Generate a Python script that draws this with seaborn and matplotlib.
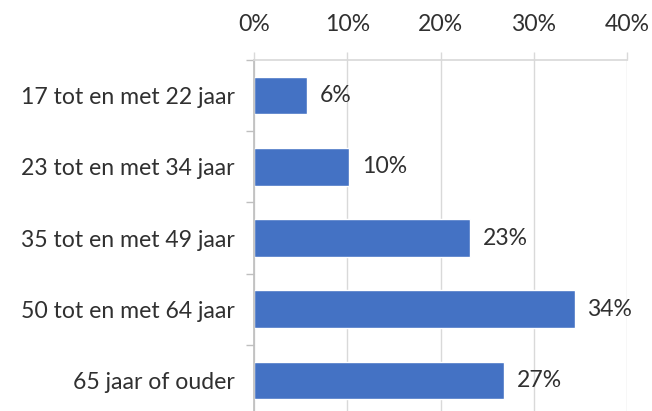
import numpy as np
import pandas as pd
import seaborn as sns
import matplotlib.pyplot as plt
from matplotlib.ticker import PercentFormatter, FixedLocator

categories = ["17 tot en met 22 jaar", "23 tot en met 34 jaar", "35 tot en met 49 jaar",
              "50 tot en met 64 jaar", "65 jaar of ouder"]
shares = [0.057, 0.102, 0.232, 0.344, 0.268]
labels = ["6%", "10%", "23%", "34%", "27%"]

df = pd.DataFrame({"leeftijd": categories, "aandeel": shares})

sns.set_theme(style="white")
plt.rcParams['font.family'] = ['Lato', 'DejaVu Sans']
txt = '#303030'
fs = 16.6

fig = plt.figure(figsize=(6.52, 4.11), dpi=100)
ax = fig.add_axes([254/652, -5/411, 373/652, 356/411])

sns.barplot(data=df, x="aandeel", y="leeftijd", orient="h", color="#4472C4",
            width=0.526, saturation=1, ax=ax)

ax.set_xlim(0, 0.4)
ax.set_ylim(4.5, -0.5)
ax.xaxis.tick_top()
ax.xaxis.set_major_formatter(PercentFormatter(1.0, decimals=0))
ax.set_xticks(np.arange(0, 0.41, 0.1))
ax.grid(axis='x', color='#D9D9D9', linewidth=1)
ax.set_axisbelow(True)
ax.set_xlabel("")
ax.set_ylabel("")

for side in ['right', 'bottom']:
    ax.spines[side].set_visible(False)
ax.spines['top'].set_color('#D9D9D9')
ax.spines['left'].set_color('#BFBFBF')

ax.tick_params(axis='x', which='major', top=True, length=6, width=1, color='#D9D9D9',
               pad=12, labelsize=fs, labelcolor=txt)
ax.tick_params(axis='y', which='major', left=False, length=0, pad=14, labelsize=fs, labelcolor=txt)
ax.yaxis.set_minor_locator(FixedLocator(np.arange(-0.5, 5, 1)))
ax.tick_params(axis='y', which='minor', left=True, length=6, width=1, color='#BFBFBF')

ax.bar_label(ax.containers[0], labels=labels, padding=9, fontsize=fs, color=txt)

fig.savefig("out.png", dpi=100)
